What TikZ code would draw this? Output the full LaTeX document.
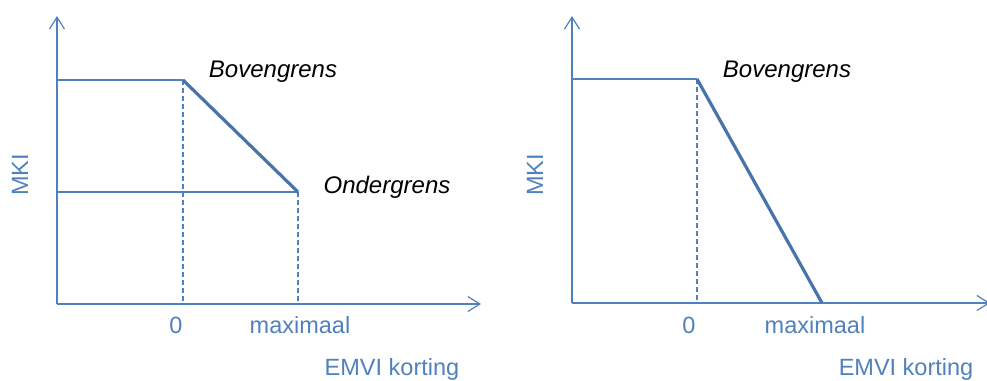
\documentclass[tikz,border=0pt]{standalone}
\usepackage{fontspec}
\setmainfont{Liberation Sans}
\usetikzlibrary{arrows.meta}
\definecolor{axblue}{HTML}{4F81BD}
\begin{document}
\begin{tikzpicture}[x=1pt,y=-1pt,
  thinline/.style={draw=axblue,line width=1.2pt},
  axis/.style={thinline,-{Straight Barb[length=12pt,width=15pt,line width=1.2pt]}},
  dashline/.style={draw=axblue,line width=1.1pt,dash pattern=on 5pt off 3pt},
  curve/.style={draw=axblue!90!black,line width=3.2pt,line join=round},
  bluetext/.style={text=axblue,font=\fontsize{23.5}{28}\selectfont,inner sep=0pt},
  blacktext/.style={text=black,font=\fontsize{24}{28}\selectfont\itshape,inner sep=0pt}]
\useasboundingbox (0,0) rectangle (987,380);
% ---------- left chart ----------
\coordinate (LO) at (57,304);
\coordinate (LY) at (57,16);
\coordinate (LX) at (481,304);
\coordinate (LU) at (57,80);
\coordinate (LB) at (183,80);
\coordinate (LL) at (57,192);
\coordinate (LD) at (298,192);
\coordinate (LB0) at (183,304);
\coordinate (LD0) at (298,304);
\draw[axis] (LO) -- (LY);
\draw[axis] (LO) -- (LX);
\draw[thinline] (LU) -- (LB);
\draw[thinline] (LL) -- (LD);
\draw[dashline] (LB) -- (LB0);
\draw[dashline] (LD) -- (LD0);
\draw[curve] (LB) -- (LD);
\node[blacktext] (lbov) at (273,72) {Bovengrens};
\node[blacktext] (lond) at (387,187) {Ondergrens};
\node[bluetext] (l0) at (176,325) {0};
\node[bluetext] (lmax) at (300,325) {maximaal};
\node[bluetext] (lemvi) at (392,369) {EMVI korting};
\node[bluetext,rotate=90] (lmki) at (20,175) {MKI};
% ---------- right chart ----------
\coordinate (RO) at (572,303);
\coordinate (RY) at (572,16);
\coordinate (RX) at (990,303);
\coordinate (RU) at (572,79);
\coordinate (RB) at (697,79);
\coordinate (RE) at (822,303);
\coordinate (RB0) at (697,303);
\draw[axis] (RO) -- (RY);
\draw[axis] (RO) -- (RX);
\draw[thinline] (RU) -- (RB);
\draw[dashline] (RB) -- (RB0);
\draw[curve] (RB) -- (RE);
\node[blacktext] (rbov) at (787,72) {Bovengrens};
\node[bluetext] (r0) at (689,325) {0};
\node[bluetext] (rmax) at (815,325) {maximaal};
\node[bluetext] (remvi) at (906,369) {EMVI korting};
\node[bluetext,rotate=90] (rmki) at (535,175) {MKI};
\end{tikzpicture}
\end{document}
